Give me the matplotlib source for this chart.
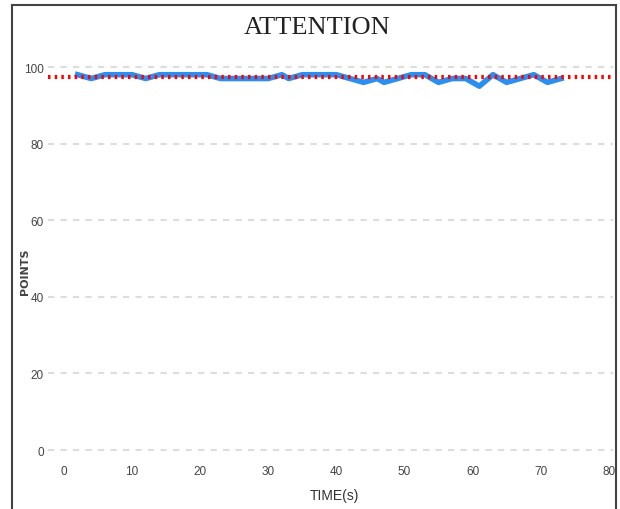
import numpy as np
import matplotlib.pyplot as plt
from matplotlib.lines import Line2D

# data
time_s = list(range(2, 74))
points = [98, 97.5, 97, 97.5, 98, 98, 98, 98, 98, 97.5, 97, 97.5, 98, 98, 98,
          98, 98, 98, 98, 98, 97.5, 97, 97, 97, 97, 97, 97, 97, 97, 97.5, 98,
          97, 97.5, 98, 98, 98, 98, 98, 98, 97.5, 97, 96.5, 96, 96.5, 97, 96,
          96.5, 97, 97.5, 98, 98, 98, 97, 96, 96.5, 97, 97, 97, 96, 95, 96.5,
          98, 97, 96, 96.5, 97, 97.5, 98, 97, 96, 96.5, 97]
average = 97.3
x_ticks = [0, 10, 20, 30, 40, 50, 60, 70, 80]
y_ticks = [0, 20, 40, 60, 80, 100]

tickfont = 'Liberation Sans'

fig = plt.figure(figsize=(6.2, 5.1), dpi=100)
ax = fig.add_axes([0.0774, 0.1006, 0.911, 0.781])

ax.axhline(average, color='red', lw=3, ls=(0, (0.6, 1.0)), zorder=3)
ax.plot(time_s, points, color='#2b8ff0', lw=4, zorder=2, solid_joinstyle='round')

ax.set_xlim(-2.35, 80.6)
ax.set_ylim(-2, 102)
ax.set_xticks(x_ticks)
ax.set_yticks(y_ticks)
ax.set_xticklabels([str(v) for v in x_ticks], family=tickfont, fontsize=8.5, color='#444444')
ax.set_yticklabels([str(v) for v in y_ticks], family=tickfont, fontsize=8.5, color='#444444')
ax.tick_params(length=0)
ax.tick_params(axis='x', pad=5)
ax.tick_params(axis='y', pad=3)
ax.grid(axis='y', color='#dddddd', lw=1.5, ls=(0, (3, 3)))
ax.set_axisbelow(True)
for s in ax.spines.values():
    s.set_visible(False)

fig.text(0.512, 0.945, 'ATTENTION', family='Liberation Serif', fontsize=19,
         color='#222222', ha='center', va='center')
fig.text(0.54, 0.027, 'TIME(s)', family=tickfont, fontsize=10, color='#333333',
         ha='center', va='center')
fig.text(0.040, 0.467, 'POINTS', family='DejaVu Sans', fontweight='bold', fontsize=8,
         color='#444444', ha='center', va='center', rotation=90)

# outer frame
fc = '#444444'
fig.add_artist(Line2D([12/620, 12/620], [0, 1 - 6/510], color=fc, lw=1.5))
fig.add_artist(Line2D([12/620, 616/620], [1 - 6/510, 1 - 6/510], color=fc, lw=1.5))
fig.add_artist(Line2D([616/620, 616/620], [0, 1 - 6/510], color=fc, lw=1.5))

fig.savefig('out.png', dpi=100)
